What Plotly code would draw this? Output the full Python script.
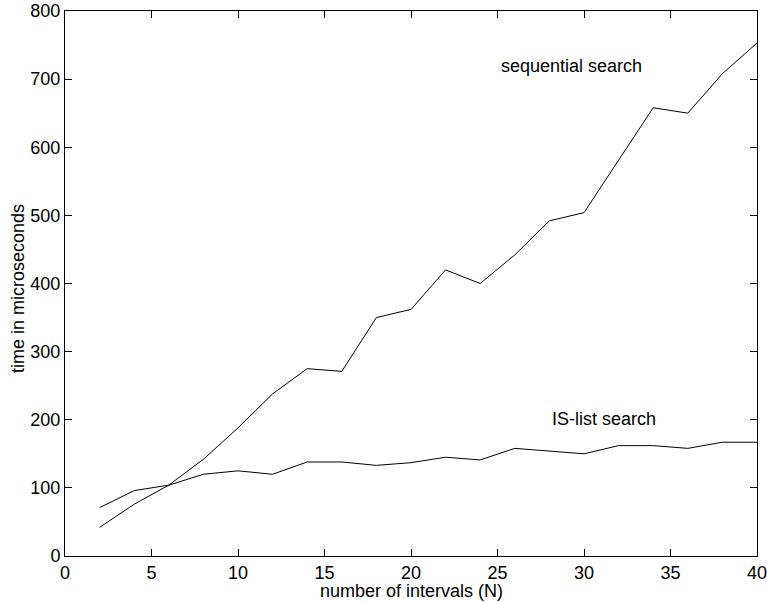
import plotly.graph_objects as go

n_values = [2, 4, 6, 8, 10, 12, 14, 16, 18, 20, 22, 24, 26, 28, 30, 32, 34, 36, 38, 40]
sequential_us = [42, 76, 104, 142, 188, 238, 275, 271, 350, 362, 420, 400, 442, 492, 504, 581, 658, 650, 708, 753]
islist_us = [71, 96, 104, 120, 125, 120, 138, 138, 133, 137, 145, 141, 158, 154, 150, 162, 162, 158, 167, 167]
x_ticks = [0, 5, 10, 15, 20, 25, 30, 35, 40]
y_ticks = [0, 100, 200, 300, 400, 500, 600, 700, 800]

FONT = "Liberation Sans, Arial, Helvetica, sans-serif"
FS = 18

fig = go.Figure()
fig.add_trace(go.Scatter(x=n_values, y=sequential_us, mode="lines",
                         line=dict(color="black", width=1), name="sequential search",
                         showlegend=False))
fig.add_trace(go.Scatter(x=n_values, y=islist_us, mode="lines",
                         line=dict(color="black", width=1), name="IS-list search",
                         showlegend=False))

fig.add_annotation(x=29.3, y=720, text="sequential search", showarrow=False,
                   font=dict(family=FONT, size=FS, color="black"))
fig.add_annotation(x=31.15, y=201, text="IS-list search", showarrow=False,
                   font=dict(family=FONT, size=FS, color="black"))

# axis titles placed as paper annotations (fixed margins)
fig.add_annotation(xref="paper", yref="paper", x=0.5, y=0, yanchor="middle",
                   yshift=-35, text="number of intervals (N)", showarrow=False,
                   font=dict(family=FONT, size=FS, color="black"))
fig.add_annotation(xref="paper", yref="paper", x=0, y=0.49, xanchor="center",
                   xshift=-47, textangle=-90, text="time in microseconds", showarrow=False,
                   font=dict(family=FONT, size=FS, color="black"))

axis_common = dict(showgrid=False, zeroline=False, showline=True, linecolor="black",
                   linewidth=1, mirror="ticks", ticks="inside", ticklen=7,
                   tickcolor="black", tickwidth=1, automargin=False,
                   ticklabeloverflow="allow",
                   tickfont=dict(family=FONT, size=FS, color="black"))

fig.update_xaxes(range=[0, 40], tickvals=x_ticks, ticktext=[str(v) for v in x_ticks],
                 **axis_common)
fig.update_yaxes(range=[0, 800], tickvals=y_ticks, ticktext=[str(v) for v in y_ticks],
                 **axis_common)

fig.update_layout(width=767, height=602, margin=dict(l=65, r=10, t=11, b=46),
                  plot_bgcolor="white", paper_bgcolor="white")

fig.write_html("out.html", config={"displayModeBar": False},
               post_script="document.body.style.margin='0px';document.body.style.overflow='hidden';")
